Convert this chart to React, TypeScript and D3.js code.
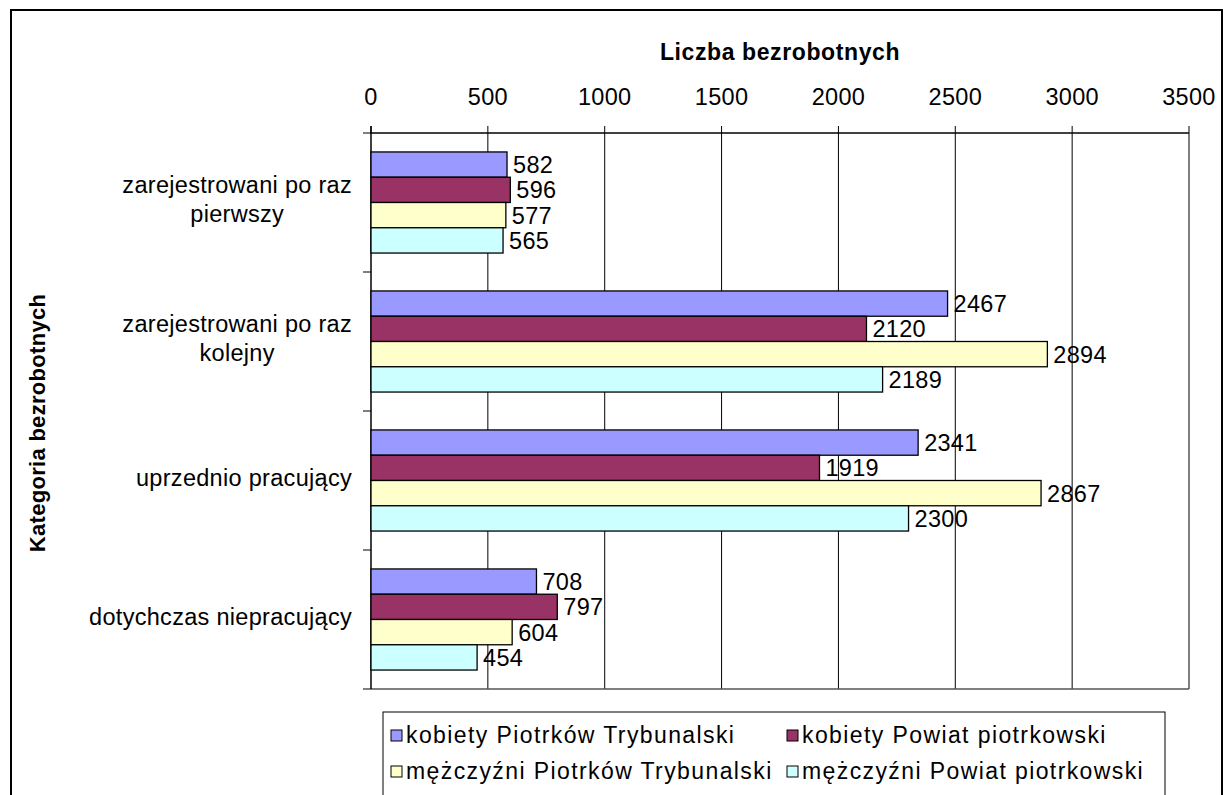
import React, { useEffect, useRef } from "react";
import * as d3 from "d3";

const categories = [
  "zarejestrowani po raz pierwszy",
  "zarejestrowani po raz kolejny",
  "uprzednio pracujący",
  "dotychczas niepracujący",
];
const categoryLines = [
  ["zarejestrowani po raz", "pierwszy"],
  ["zarejestrowani po raz", "kolejny"],
  ["uprzednio pracujący"],
  ["dotychczas niepracujący"],
];
const seriesNames = [
  "kobiety Piotrków Trybunalski",
  "kobiety Powiat piotrkowski",
  "mężczyźni Piotrków Trybunalski",
  "mężczyźni Powiat piotrkowski",
];
const seriesColors = ["#9999FF", "#993366", "#FFFFCC", "#CCFFFF"];
const kobietyPiotrkow = [582, 2467, 2341, 708];
const kobietyPowiat = [596, 2120, 1919, 797];
const mezczyzniPiotrkow = [577, 2894, 2867, 604];
const mezczyzniPowiat = [565, 2189, 2300, 454];
const seriesValues = [kobietyPiotrkow, kobietyPowiat, mezczyzniPiotrkow, mezczyzniPowiat];
const xTicks = [0, 500, 1000, 1500, 2000, 2500, 3000, 3500];
const xTitle = "Liczba bezrobotnych";
const yTitle = "Kategoria bezrobotnych";

const FONT = "'Liberation Sans', Arial, sans-serif";
const FS = 23.5;
const LS = 0.3;

export default function App() {
  const ref = useRef<SVGSVGElement>(null);

  useEffect(() => {
    const svg = d3.select(ref.current);
    svg.selectAll("*").remove();

    const left = 371, right = 1189, top = 133, bottom = 689;
    const x = d3.scaleLinear().domain([0, 3500]).range([left, right]);
    const y = d3.scaleBand<string>().domain(categories).range([top, bottom]).padding(0);
    const inner = d3
      .scaleBand<string>()
      .domain(seriesNames)
      .range([0, y.bandwidth()])
      .paddingInner(0)
      .paddingOuter(0.75);

    svg.append("rect").attr("width", 1225).attr("height", 795).attr("fill", "#fff");
    // outer frame
    svg
      .append("rect")
      .attr("x", 11)
      .attr("y", 10)
      .attr("width", 1211)
      .attr("height", 820)
      .attr("fill", "none")
      .attr("stroke", "#000")
      .attr("stroke-width", 2);

    // gridlines
    svg
      .append("g")
      .selectAll("line")
      .data(xTicks.slice(1))
      .join("line")
      .attr("x1", (d) => x(d))
      .attr("x2", (d) => x(d))
      .attr("y1", top)
      .attr("y2", bottom)
      .attr("stroke", "#000")
      .attr("stroke-width", 1);

    // plot bottom border
    svg
      .append("line")
      .attr("x1", left)
      .attr("x2", right)
      .attr("y1", bottom)
      .attr("y2", bottom)
      .attr("stroke", "#555")
      .attr("stroke-width", 1.5);

    // top axis
    svg
      .append("line")
      .attr("x1", left - 1)
      .attr("x2", right)
      .attr("y1", top)
      .attr("y2", top)
      .attr("stroke", "#000")
      .attr("stroke-width", 1.5);
    svg
      .append("g")
      .selectAll("line")
      .data(xTicks)
      .join("line")
      .attr("x1", (d) => x(d))
      .attr("x2", (d) => x(d))
      .attr("y1", top - 7)
      .attr("y2", top)
      .attr("stroke", "#000");
    svg
      .append("g")
      .selectAll("text")
      .data(xTicks)
      .join("text")
      .attr("x", (d) => x(d))
      .attr("y", 105)
      .attr("text-anchor", "middle")
      .attr("font-family", FONT)
      .attr("font-size", FS)
      .attr("letter-spacing", LS)
      .text((d) => String(d));

    // left axis
    svg
      .append("line")
      .attr("x1", left)
      .attr("x2", left)
      .attr("y1", top - 7)
      .attr("y2", bottom)
      .attr("stroke", "#000")
      .attr("stroke-width", 1.5);
    const boundaries = categories.map((c) => y(c) as number).concat([bottom]);
    svg
      .append("g")
      .selectAll("line")
      .data(boundaries)
      .join("line")
      .attr("x1", left - 8)
      .attr("x2", left)
      .attr("y1", (d) => d)
      .attr("y2", (d) => d)
      .attr("stroke", "#000");

    // category labels
    const catRight = 352;
    categories.forEach((c, ci) => {
      const lines = categoryLines[ci];
      const cy = (y(c) as number) + y.bandwidth() / 2;
      const g = svg.append("g");
      const texts = g
        .selectAll("text")
        .data(lines)
        .join("text")
        .attr("y", (d, i) => cy + (i - (lines.length - 1) / 2) * 29 + 5)
        .attr("text-anchor", "middle")
        .attr("font-family", FONT)
        .attr("font-size", FS)
        .attr("letter-spacing", LS)
        .text((d) => d);
      let maxW = 0;
      texts.each(function () {
        maxW = Math.max(maxW, (this as SVGTextElement).getComputedTextLength());
      });
      texts.attr("x", catRight - maxW / 2);
    });

    // bars
    seriesNames.forEach((s, si) => {
      const g = svg.append("g");
      g.selectAll("rect")
        .data(seriesValues[si])
        .join("rect")
        .attr("x", x(0))
        .attr("y", (d, i) => (y(categories[i]) as number) + (inner(s) as number))
        .attr("width", (d) => x(d) - x(0))
        .attr("height", inner.bandwidth())
        .attr("fill", seriesColors[si])
        .attr("stroke", "#000")
        .attr("stroke-width", 1.3);
      g.selectAll("text")
        .data(seriesValues[si])
        .join("text")
        .attr("x", (d) => x(d) + 6)
        .attr("y", (d, i) => (y(categories[i]) as number) + (inner(s) as number) + inner.bandwidth() / 2)
        .attr("dy", "0.36em")
        .attr("font-family", FONT)
        .attr("font-size", FS)
        .attr("letter-spacing", LS)
        .text((d) => String(d));
    });

    // titles
    svg
      .append("text")
      .attr("x", 780)
      .attr("y", 60)
      .attr("text-anchor", "middle")
      .attr("font-family", FONT)
      .attr("font-weight", "bold")
      .attr("font-size", 23)
      .attr("letter-spacing", 0.6)
      .text(xTitle);
    svg
      .append("text")
      .attr("transform", `translate(45, ${(top + bottom) / 2 + 12}) rotate(-90)`)
      .attr("text-anchor", "middle")
      .attr("font-family", FONT)
      .attr("font-weight", "bold")
      .attr("font-size", 22)
      .attr("letter-spacing", 0.3)
      .text(yTitle);

    // legend
    const lg = svg.append("g");
    lg.append("rect")
      .attr("x", 383)
      .attr("y", 712)
      .attr("width", 782)
      .attr("height", 120)
      .attr("fill", "#fff")
      .attr("stroke", "#000")
      .attr("stroke-width", 1);
    const colX = [391, 787];
    const rowY = [735, 771];
    seriesNames.forEach((s, i) => {
      const cx = colX[i % 2];
      const ry = rowY[Math.floor(i / 2)];
      lg.append("rect")
        .attr("x", cx)
        .attr("y", ry - 5)
        .attr("width", 11)
        .attr("height", 11)
        .attr("fill", seriesColors[i])
        .attr("stroke", "#000")
        .attr("stroke-width", 1);
      lg.append("text")
        .attr("x", cx + 15)
        .attr("y", ry)
        .attr("dy", "0.36em")
        .attr("font-family", FONT)
        .attr("font-size", 23)
        .attr("letter-spacing", 1.4)
        .text(s);
    });
  }, []);

  return (
    <svg
      ref={ref}
      width={1225}
      height={795}
      style={{ position: "absolute", left: 0, top: 0, display: "block" }}
    />
  );
}
